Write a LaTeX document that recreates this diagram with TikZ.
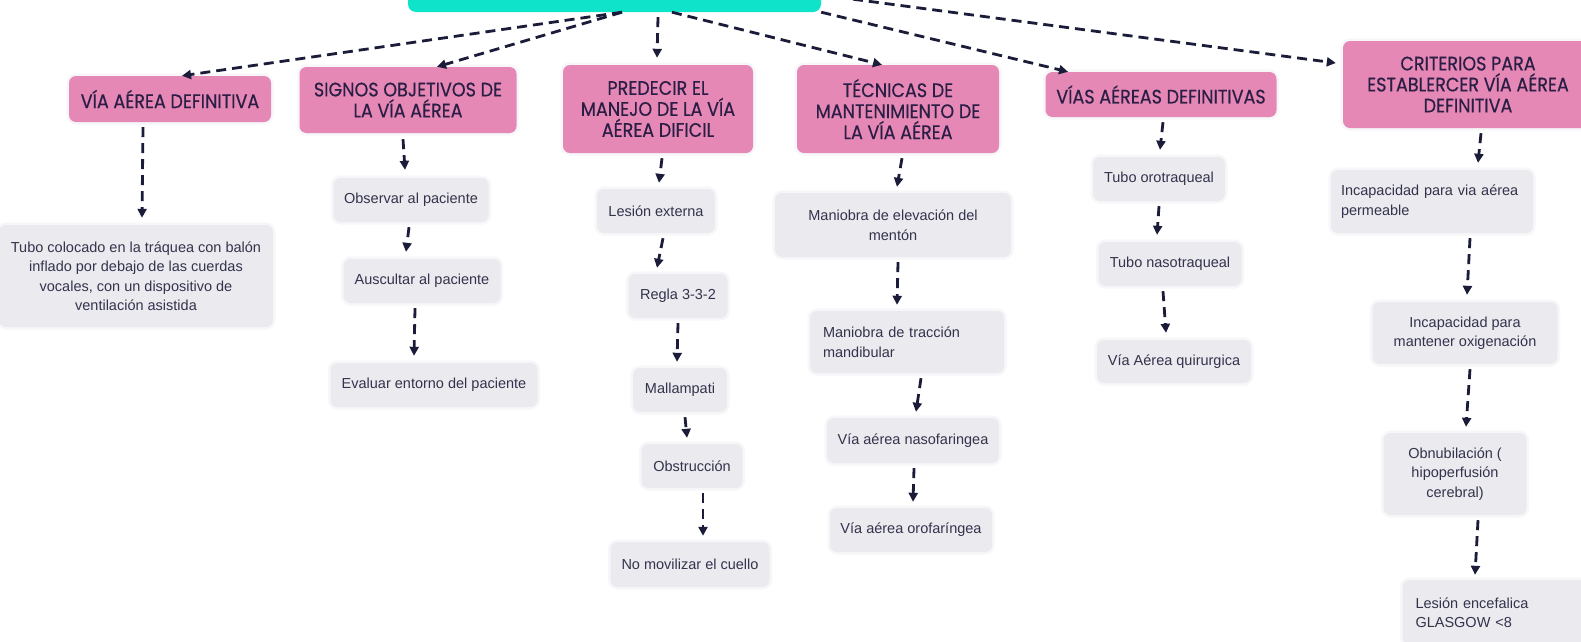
\documentclass[tikz,border=0pt]{standalone}
\usepackage{fontspec}
\setmainfont{Liberation Sans}
\newfontfamily\hdfont{Poppins}[FakeStretch=0.9,FakeBold=0.5]
\usetikzlibrary{arrows.meta,calc}
\definecolor{rootcol}{HTML}{0FE4CB}
\definecolor{pinkc}{HTML}{E688B6}
\definecolor{greyc}{HTML}{EBEAEE}
\definecolor{hdtext}{HTML}{2A1E45}
\definecolor{gtext}{HTML}{33334D}
\definecolor{arrc}{HTML}{1A1C3A}
\definecolor{halo}{HTML}{F7F6F9}
\tikzset{
  sz/.style 2 args={minimum width=#1pt, minimum height=#2pt},
  rootbox/.style={rounded corners=8pt, fill=rootcol, inner sep=0pt},
  hd/.style={rounded corners=7pt, fill=pinkc, text=hdtext, align=center, inner sep=0pt,
     font=\hdfont\fontsize{19.5}{21}\selectfont, preaction={draw=halo,line width=5pt}},
  gb/.style={rounded corners=7pt, fill=greyc, text=gtext, align=center, inner sep=0pt,
     font=\fontsize{14.5}{19.5}\selectfont, preaction={draw=halo,line width=5pt}},
  gbl/.style 2 args={gb, align=left, inner xsep=13pt, text width=#1pt, minimum height=#2pt},
  conn/.style={draw=arrc, line width=2.8pt, dash pattern=on 10pt off 6pt, -{Triangle[length=9pt,width=9pt]}}
}
\begin{document}
\begin{tikzpicture}[x=1pt,y=-1pt]
\useasboundingbox (0,0) rectangle (1581,641);
\fill[white] (0,0) rectangle (1581,641);
% root
\node[rootbox, sz={413}{72}] (root) at (614.5,-24) {};
% headers
\node[hd, sz={202}{46}] (h1) at (170,99) {VÍA AÉREA DEFINITIVA};
\node[hd, sz={217}{66}] (h2) at (408,100) {SIGNOS OBJETIVOS DE\\LA VÍA AÉREA};
\node[hd, sz={190}{88}] (h3) at (658,109) {PREDECIR EL\\MANEJO DE LA VÍA\\AÉREA DIFICIL};
\node[hd, sz={202}{88}] (h4) at (898,109) {TÉCNICAS DE\\MANTENIMIENTO DE\\LA VÍA AÉREA};
\node[hd, sz={231}{45}] (h5) at (1161,94.5) {VÍAS AÉREAS DEFINITIVAS};
\node[hd, sz={250}{87}] (h6) at (1468,84.5) {CRITERIOS PARA\\ESTABLERCER VÍA AÉREA\\DEFINITIVA};
% column 1
\node[gb, sz={274}{102}] (c1a) at (136,276) {Tubo colocado en la tráquea con balón\\inflado por debajo de las cuerdas\\vocales, con un dispositivo de\\ventilación asistida};
% column 2
\node[gb, sz={155}{44}] (c2a) at (411,200) {Observar al paciente};
\node[gb, sz={157}{44}] (c2b) at (422,281) {Auscultar al paciente};
\node[gb, sz={207}{44}] (c2c) at (434,385) {Evaluar entorno del paciente};
% column 3
\node[gb, sz={118}{44}] (c3a) at (656,211) {Lesión externa};
\node[gb, sz={99}{44}] (c3b) at (678,296) {Regla 3-3-2};
\node[gb, sz={94}{44}] (c3c) at (680,390) {Mallampati};
\node[gb, sz={101}{44}] (c3d) at (692,466) {Obstrucción};
\node[gb, sz={159}{45}] (c3e) at (690,564.5) {No movilizar el cuello};
% column 4
\node[gb, sz={236}{64}] (c4a) at (893,225) {Maniobra de elevación del\\mentón};
\node[gbl={168}{62}] (c4b) at (907,342) {Maniobra de tracción\\mandibular};
\node[gb, sz={172}{45}] (c4c) at (913,440.5) {Vía aérea nasofaringea};
\node[gb, sz={162}{44}] (c4d) at (911,530) {Vía aérea orofaríngea};
% column 5
\node[gb, sz={132}{44}] (c5a) at (1159,179) {Tubo orotraqueal};
\node[gb, sz={143}{44}] (c5b) at (1170,264) {Tubo nasotraqueal};
\node[gb, sz={154}{43}] (c5c) at (1174,361.5) {Vía Aérea quirurgica};
% column 6
\node[gbl={182}{63}, inner xsep=10pt] (c6a) at (1432,201.5) {Incapacidad para via aérea\\permeable};
\node[gb, sz={185}{62}] (c6b) at (1465,333) {Incapacidad para\\mantener oxigenación};
\node[gb, sz={143}{82}] (c6c) at (1455,474) {Obnubilación (\\hipoperfusión\\cerebral)};
\node[gbl={161}{65}] (c6d) at (1496,612.5) {Lesión encefalica\\GLASGOW <8};
% connectors from root
\draw[conn] ([xshift=7.5pt]root.south) -- ([xshift=12pt]h1.north);
\draw[conn] ([xshift=7.5pt]root.south) -- ([xshift=29pt]h2.north);
\draw[conn] ([xshift=43.5pt,yshift=-5pt]root.south) -- ([xshift=-1pt,yshift=7pt]h3.north);
\draw[conn] ([xshift=57.5pt]root.south) -- ([xshift=-16pt]h4.north);
\draw[conn] (root.south east) -- ([xshift=-93pt]h5.north);
\draw[conn] ([yshift=-19pt]root.east) -- ([xshift=-7pt,yshift=21.5pt]h6.west);
% column connectors
\draw[conn] ([xshift=-27pt,yshift=-5pt]h1.south) -- ([xshift=6pt,yshift=7pt]c1a.north);
\draw[conn] ([xshift=-5pt,yshift=-6pt]h2.south) -- ([xshift=-6pt,yshift=8pt]c2a.north);
\draw[conn] ([xshift=-2pt,yshift=-5pt]c2a.south) -- ([xshift=-16pt,yshift=7pt]c2b.north);
\draw[conn] ([xshift=-7pt,yshift=-5pt]c2b.south) -- ([xshift=-20pt,yshift=7pt]c2c.north);
\draw[conn] ([xshift=4pt,yshift=-5pt]h3.south) -- ([xshift=3pt,yshift=6pt]c3a.north);
\draw[conn] ([xshift=7pt,yshift=-5pt]c3a.south) -- ([xshift=-21pt,yshift=6pt]c3b.north);
\draw[conn] ([xshift=0pt,yshift=-5pt]c3b.south) -- ([xshift=-3pt,yshift=6pt]c3c.north);
\draw[conn] ([xshift=5pt,yshift=-5pt]c3c.south) -- ([xshift=-5pt,yshift=6pt]c3d.north);
\draw[conn] ([xshift=11pt,yshift=-5pt]c3d.south) -- ([xshift=13pt,yshift=6pt]c3e.north);
\draw[conn] ([xshift=4pt,yshift=-5pt]h4.south) -- ([xshift=4pt,yshift=6pt]c4a.north);
\draw[conn] ([xshift=5pt,yshift=-5pt]c4a.south) -- ([xshift=-10pt,yshift=6pt]c4b.north);
\draw[conn] ([xshift=14pt,yshift=-5pt]c4b.south) -- ([xshift=3pt,yshift=6pt]c4c.north);
\draw[conn] ([xshift=1pt,yshift=-5pt]c4c.south) -- ([xshift=2pt,yshift=6pt]c4d.north);
\draw[conn] ([xshift=2pt,yshift=-5pt]h5.south) -- ([xshift=1pt,yshift=7pt]c5a.north);
\draw[conn] ([xshift=0pt,yshift=-5pt]c5a.south) -- ([xshift=-13pt,yshift=7pt]c5b.north);
\draw[conn] ([xshift=-7pt,yshift=-5pt]c5b.south) -- ([xshift=-8pt,yshift=7pt]c5c.north);
\draw[conn] ([xshift=13pt,yshift=-5pt]h6.south) -- ([xshift=46pt,yshift=7pt]c6a.north);
\draw[conn] ([xshift=38pt,yshift=-5pt]c6a.south) -- ([xshift=2pt,yshift=7pt]c6b.north);
\draw[conn] ([xshift=5pt,yshift=-5pt]c6b.south) -- ([xshift=11pt,yshift=6pt]c6c.north);
\draw[conn] ([xshift=23pt,yshift=-5pt]c6c.south) -- ([xshift=-21pt,yshift=5pt]c6d.north);
\end{tikzpicture}
\end{document}
